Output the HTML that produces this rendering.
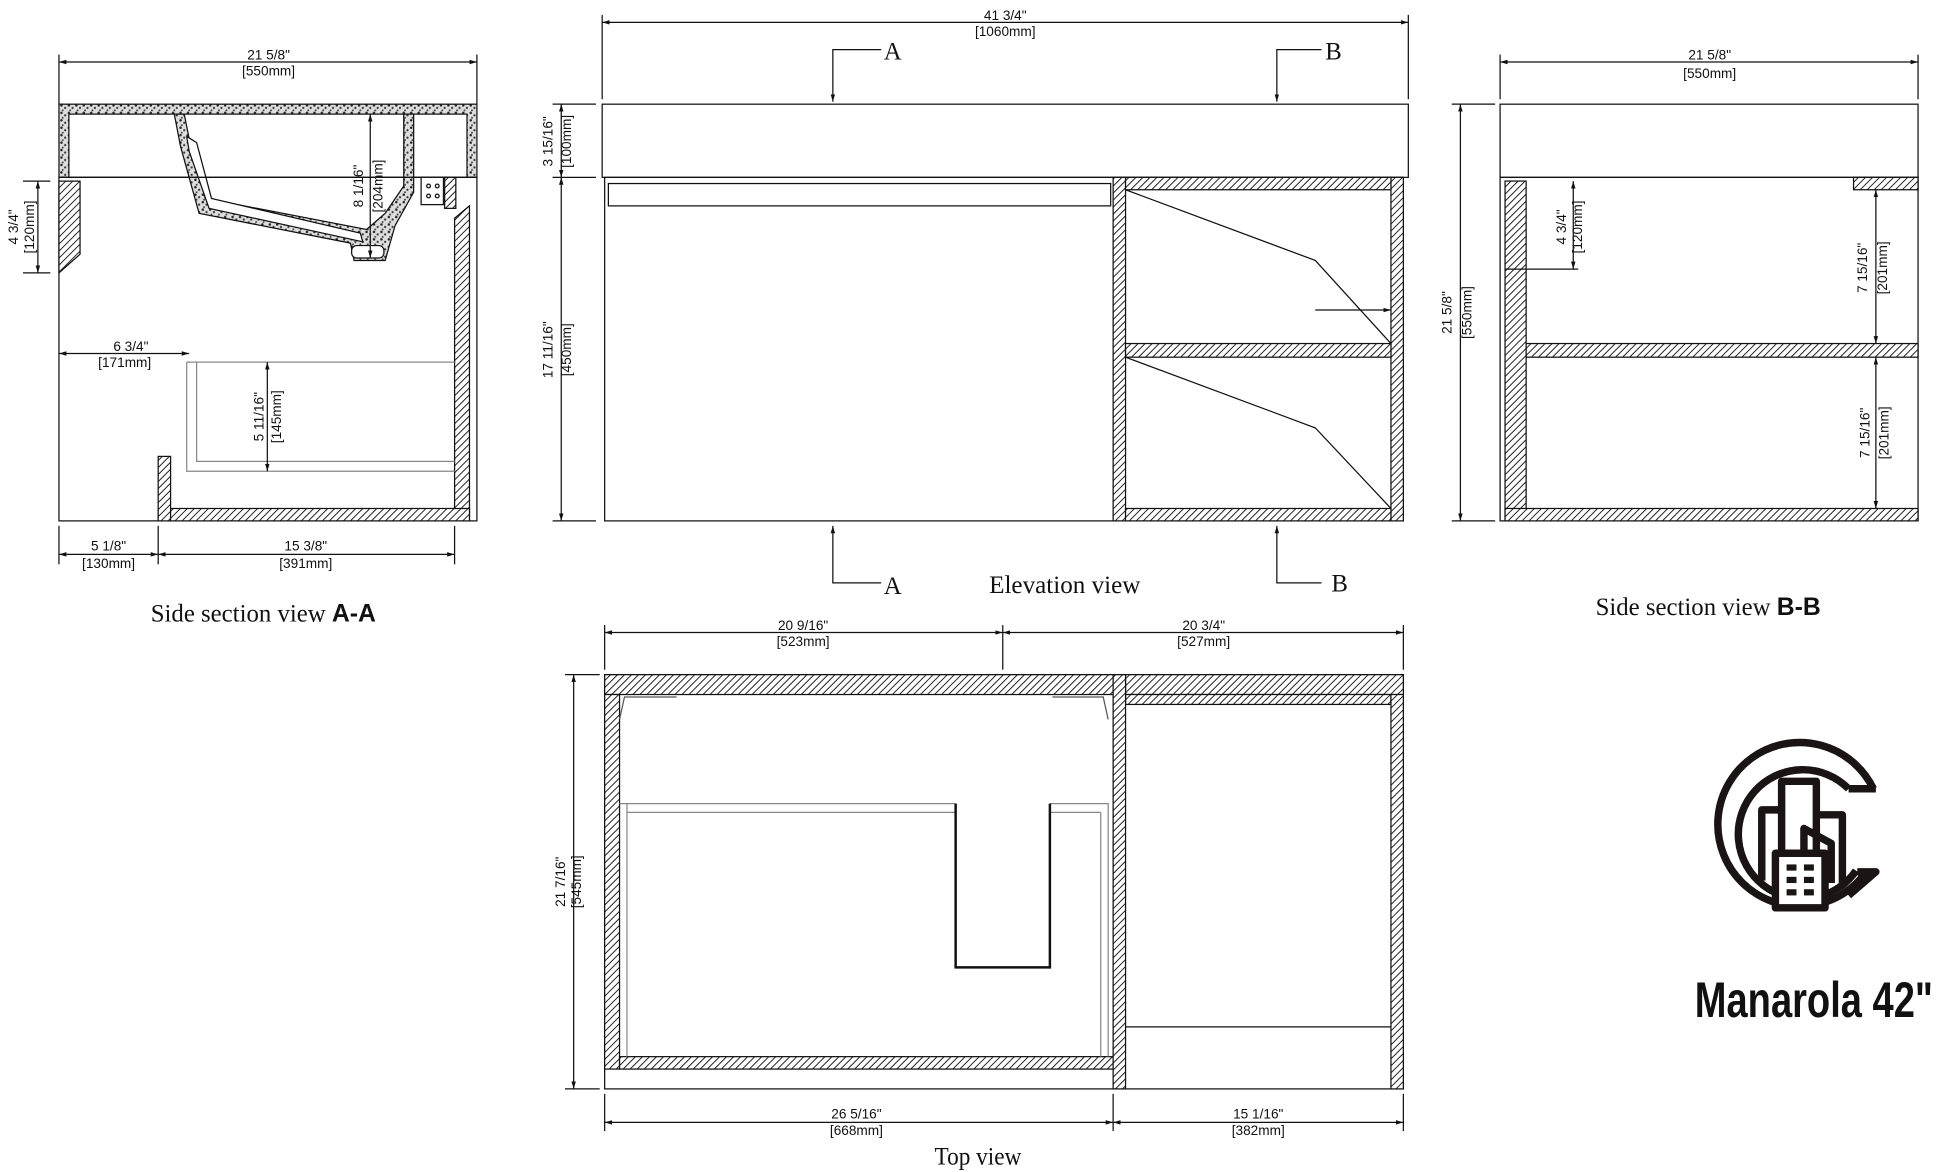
<!DOCTYPE html>
<html><head><meta charset="utf-8"><style>
html,body{margin:0;padding:0;background:#fff;}
svg{display:block;}
text{font-family:"Liberation Sans",sans-serif;fill:#111;}
.d text{font-size:11px;}
.t text{font-family:"Liberation Serif",serif;font-size:20px;}
</style></head><body>
<svg width="1946" height="1172" viewBox="0 0 1568 945" xmlns="http://www.w3.org/2000/svg">
<defs>
<pattern id="h" width="4" height="4" patternUnits="userSpaceOnUse" patternTransform="rotate(45)">
<rect width="4" height="4" fill="#fff"/><line x1="0" y1="0" x2="0" y2="4" stroke="#222" stroke-width="1.6"/></pattern>
<pattern id="s" width="6" height="6" patternUnits="userSpaceOnUse">
<rect width="6" height="6" fill="#ddd"/><circle cx="1" cy="1" r="1" fill="#222"/><circle cx="4" cy="3" r="0.9" fill="#333"/><circle cx="2" cy="5" r="0.8" fill="#444"/></pattern>
<marker id="a" viewBox="0 0 10 10" refX="10" refY="5" markerWidth="6" markerHeight="6" orient="auto-start-reverse"><path d="M0,2 L10,5 L0,8z" fill="#111"/></marker>
</defs>
<g stroke="#111" stroke-width="1" fill="none">
<line x1="47" y1="44" x2="47" y2="84"/><line x1="384" y1="44" x2="384" y2="84"/>
<line x1="47" y1="50" x2="384" y2="50" marker-start="url(#a)" marker-end="url(#a)"/>
<rect x="47" y="84" width="337" height="59" fill="url(#s)"/>
<rect x="55" y="92" width="321" height="51" fill="#fff"/>
<path d="M140,92 L148,92 L152,112 L165,160 L295,185 L310,172 L325,150 L325,92 L333,92 L333,155 L318,182 L310,210 L285,210 L282,196 L160,172 L145,118 Z" fill="url(#s)"/>
<path d="M150,110 L152,122 L168,168 L292,195 L290,188 L170,160 L158,115 Z" fill="#fff"/>
<rect x="283" y="198" width="26" height="10" rx="4" fill="#fff"/>
<line x1="47" y1="143" x2="384" y2="143"/>
<rect x="47" y="143" width="337" height="277"/>
<polygon points="47,146 64,146 64,205 47,220" fill="url(#h)"/>
<rect x="339" y="143" width="18" height="22" fill="#fff"/>
<circle cx="345" cy="150" r="1.5"/><circle cx="352" cy="150" r="1.5"/><circle cx="345" cy="158" r="1.5"/><circle cx="352" cy="158" r="1.5"/>
<rect x="358" y="143" width="9" height="25" fill="url(#h)"/>
<polygon points="366,176 378,166 378,420 366,420" fill="url(#h)"/>
<rect x="127" y="410" width="251" height="10" fill="url(#h)"/>
<rect x="127" y="368" width="10" height="52" fill="url(#h)"/>
<path d="M150,292 L366,292 M150,292 L150,380 L366,380 M158,292 L158,372 L366,372" stroke="#888"/>
<line x1="298" y1="92" x2="298" y2="208" marker-start="url(#a)" marker-end="url(#a)"/>
<line x1="18" y1="146" x2="40" y2="146"/><line x1="18" y1="220" x2="40" y2="220"/>
<line x1="30" y1="146" x2="30" y2="220" marker-start="url(#a)" marker-end="url(#a)"/>
<line x1="47" y1="285" x2="152" y2="285" marker-start="url(#a)" marker-end="url(#a)"/>
<line x1="215" y1="292" x2="215" y2="380" marker-start="url(#a)" marker-end="url(#a)"/>
<line x1="47" y1="424" x2="47" y2="455"/><line x1="127" y1="424" x2="127" y2="455"/><line x1="366" y1="424" x2="366" y2="455"/>
<line x1="47" y1="447" x2="127" y2="447" marker-start="url(#a)" marker-end="url(#a)"/>
<line x1="127" y1="447" x2="366" y2="447" marker-start="url(#a)" marker-end="url(#a)"/>
<line x1="485" y1="12" x2="485" y2="80"/><line x1="1135" y1="12" x2="1135" y2="80"/>
<line x1="485" y1="18" x2="1135" y2="18" marker-start="url(#a)" marker-end="url(#a)"/>
<rect x="485" y="84" width="650" height="59"/>
<rect x="487" y="143" width="644" height="277"/>
<rect x="490" y="148" width="405" height="18"/>
<rect x="897" y="143" width="10" height="277" fill="url(#h)"/>
<rect x="1121" y="143" width="10" height="277" fill="url(#h)"/>
<rect x="907" y="410" width="214" height="10" fill="url(#h)"/>
<rect x="907" y="143" width="214" height="10" fill="url(#h)"/>
<rect x="907" y="277" width="214" height="11" fill="url(#h)"/>
<path d="M907,153 L1060,210 L1121,277 M907,288 L1060,345 L1121,410"/>
<line x1="1060" y1="250" x2="1121" y2="250" marker-end="url(#a)"/>
<path d="M710,40 L671,40 L671,82" marker-end="url(#a)"/><path d="M1065,40 L1029,40 L1029,82" marker-end="url(#a)"/>
<path d="M710,470 L671,470 L671,424" marker-end="url(#a)"/><path d="M1065,470 L1029,470 L1029,424" marker-end="url(#a)"/>
<line x1="445" y1="84" x2="480" y2="84"/><line x1="445" y1="143" x2="480" y2="143"/><line x1="445" y1="420" x2="480" y2="420"/>
<line x1="452" y1="84" x2="452" y2="143" marker-start="url(#a)" marker-end="url(#a)"/>
<line x1="452" y1="143" x2="452" y2="420" marker-start="url(#a)" marker-end="url(#a)"/>
<line x1="1209" y1="44" x2="1209" y2="80"/><line x1="1546" y1="44" x2="1546" y2="80"/>
<line x1="1209" y1="50" x2="1546" y2="50" marker-start="url(#a)" marker-end="url(#a)"/>
<rect x="1209" y="84" width="337" height="59"/>
<rect x="1209" y="143" width="337" height="277"/>
<rect x="1213" y="146" width="17" height="274" fill="url(#h)"/>
<rect x="1213" y="410" width="333" height="10" fill="url(#h)"/>
<rect x="1230" y="277" width="316" height="11" fill="url(#h)"/>
<rect x="1494" y="143" width="52" height="10" fill="url(#h)"/>
<line x1="1170" y1="84" x2="1205" y2="84"/><line x1="1170" y1="420" x2="1205" y2="420"/>
<line x1="1177" y1="84" x2="1177" y2="420" marker-start="url(#a)" marker-end="url(#a)"/>
<line x1="1213" y1="217" x2="1272" y2="217"/>
<line x1="1268" y1="146" x2="1268" y2="217" marker-start="url(#a)" marker-end="url(#a)"/>
<line x1="1512" y1="153" x2="1512" y2="277" marker-start="url(#a)" marker-end="url(#a)"/>
<line x1="1512" y1="288" x2="1512" y2="410" marker-start="url(#a)" marker-end="url(#a)"/>
<line x1="487" y1="504" x2="487" y2="540"/><line x1="808" y1="504" x2="808" y2="540"/><line x1="1131" y1="504" x2="1131" y2="540"/>
<line x1="487" y1="510" x2="808" y2="510" marker-start="url(#a)" marker-end="url(#a)"/>
<line x1="808" y1="510" x2="1131" y2="510" marker-start="url(#a)" marker-end="url(#a)"/>
<rect x="487" y="544" width="644" height="334"/>
<rect x="487" y="544" width="410" height="16" fill="url(#h)"/>
<rect x="907" y="544" width="224" height="16" fill="url(#h)"/>
<rect x="907" y="560" width="214" height="8" fill="url(#h)"/>
<rect x="487" y="560" width="12" height="302" fill="url(#h)"/>
<rect x="499" y="852" width="398" height="10" fill="url(#h)"/>
<rect x="897" y="544" width="10" height="334" fill="url(#h)"/>
<rect x="1121" y="560" width="10" height="318" fill="url(#h)"/>
<path d="M499,580 L503,562 L545,562 M893,580 L889,562 L848,562" stroke="#555"/>
<path d="M499,648 L770,648 M846,648 L893,648 L893,852 M505,648 L505,852 M887,655 L887,852 M505,655 L770,655 M846,655 L887,655" stroke="#888"/>
<path d="M770,648 L770,780 L846,780 L846,648" stroke-width="2"/>
<line x1="907" y1="828" x2="1121" y2="828"/>
<line x1="455" y1="544" x2="483" y2="544"/><line x1="455" y1="878" x2="483" y2="878"/>
<line x1="462" y1="544" x2="462" y2="878" marker-start="url(#a)" marker-end="url(#a)"/>
<line x1="487" y1="882" x2="487" y2="912"/><line x1="897" y1="882" x2="897" y2="912"/><line x1="1131" y1="882" x2="1131" y2="912"/>
<line x1="487" y1="905" x2="897" y2="905" marker-start="url(#a)" marker-end="url(#a)"/>
<line x1="897" y1="905" x2="1131" y2="905" marker-start="url(#a)" marker-end="url(#a)"/>
</g>
<g fill="none" stroke="#1a1414" stroke-width="6" stroke-linejoin="round">
<path d="M1510,636 A66,66 0 1 0 1505,702"/>
<path d="M1490,636 A52,52 0 1 0 1496,702"/>
<path d="M1490,636 L1512,636"/>
<path d="M1497,703 L1512,703 L1490,722"/>
<path d="M1420,710 L1420,653 L1436,653 M1436,720 L1436,630 L1464,630 L1464,706 M1464,657 L1485,657 L1485,712 M1454,720 L1454,668 L1476,680 L1476,712"/>
<rect x="1431" y="688" width="40" height="44" fill="#fff"/>
</g>
<g fill="#1a1414"><rect x="1440" y="697" width="8" height="5"/><rect x="1454" y="697" width="8" height="5"/><rect x="1440" y="707" width="8" height="5"/><rect x="1454" y="707" width="8" height="5"/><rect x="1440" y="717" width="8" height="5"/><rect x="1454" y="717" width="8" height="5"/></g>
<g class="d" text-anchor="middle">
<text x="216" y="48">21 5/8"</text><text x="216" y="61">[550mm]</text>
<text x="810" y="16">41 3/4"</text><text x="810" y="29">[1060mm]</text>
<text x="1378" y="48">21 5/8"</text><text x="1378" y="63">[550mm]</text>
<text x="105" y="283">6 3/4"</text><text x="100" y="296">[171mm]</text>
<text x="87" y="444">5 1/8"</text><text x="87" y="458">[130mm]</text>
<text x="246" y="444">15 3/8"</text><text x="246" y="458">[391mm]</text>
<text x="647" y="508">20 9/16"</text><text x="647" y="521">[523mm]</text>
<text x="970" y="508">20 3/4"</text><text x="970" y="521">[527mm]</text>
<text x="690" y="902">26 5/16"</text><text x="690" y="915">[668mm]</text>
<text x="1014" y="902">15 1/16"</text><text x="1014" y="915">[382mm]</text>
<text transform="translate(292,150) rotate(-90)">8 1/16"</text><text transform="translate(308,150) rotate(-90)">[204mm]</text>
<text transform="translate(14,183) rotate(-90)">4 3/4"</text><text transform="translate(27,183) rotate(-90)">[120mm]</text>
<text transform="translate(212,336) rotate(-90)">5 11/16"</text><text transform="translate(226,336) rotate(-90)">[145mm]</text>
<text transform="translate(445,114) rotate(-90)">3 15/16"</text><text transform="translate(460,114) rotate(-90)">[100mm]</text>
<text transform="translate(445,282) rotate(-90)">17 11/16"</text><text transform="translate(460,282) rotate(-90)">[450mm]</text>
<text transform="translate(1170,252) rotate(-90)">21 5/8"</text><text transform="translate(1186,252) rotate(-90)">[550mm]</text>
<text transform="translate(1262,183) rotate(-90)">4 3/4"</text><text transform="translate(1275,183) rotate(-90)">[120mm]</text>
<text transform="translate(1505,216) rotate(-90)">7 15/16"</text><text transform="translate(1521,216) rotate(-90)">[201mm]</text>
<text transform="translate(1507,349) rotate(-90)">7 15/16"</text><text transform="translate(1522,349) rotate(-90)">[201mm]</text>
<text transform="translate(455,711) rotate(-90)">21 7/16"</text><text transform="translate(468,711) rotate(-90)">[545mm]</text>
</g>
<g class="t">
<text x="712" y="48">A</text><text x="1068" y="48">B</text>
<text x="712" y="479">A</text><text x="1073" y="477">B</text>
<text x="797" y="478" textLength="122" lengthAdjust="spacingAndGlyphs">Elevation view</text>
<text x="121" y="501">Side section view <tspan font-family="Liberation Sans" font-weight="bold">A-A</tspan></text>
<text x="1286" y="496">Side section view <tspan font-family="Liberation Sans" font-weight="bold">B-B</tspan></text>
<text x="753" y="939" textLength="70" lengthAdjust="spacingAndGlyphs">Top view</text>
</g>
<text x="1366" y="820" font-size="40" font-weight="600" textLength="192" lengthAdjust="spacingAndGlyphs">Manarola 42"</text>
</svg>
</body></html>
